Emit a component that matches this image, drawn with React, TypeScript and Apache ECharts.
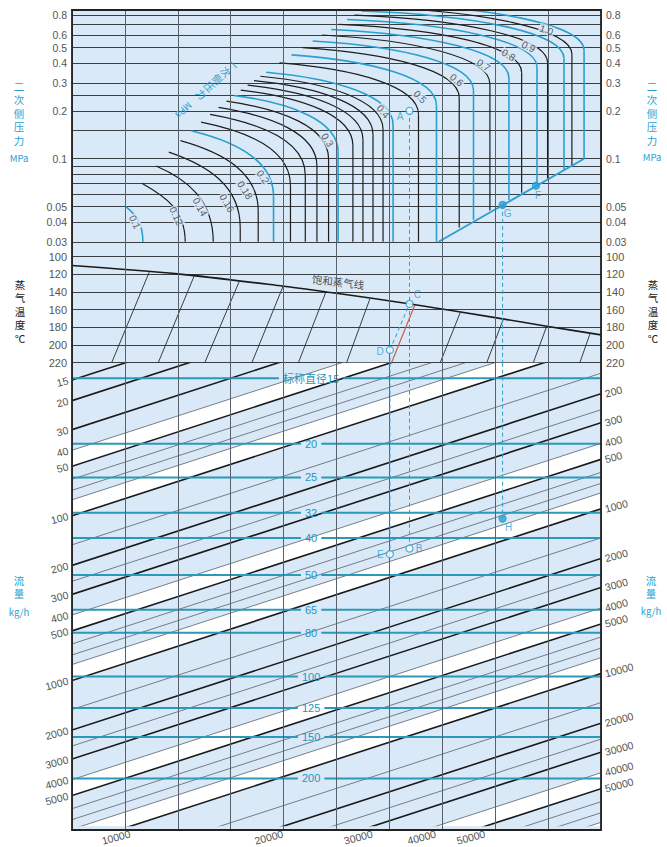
import React, { useEffect, useRef } from "react";
import * as echarts from "echarts";

// ================= Pressure section (二次侧压力 MPa) =================
const pressureRange = [0.02751, 0.8615];
const pressureGridLines = [0.03, 0.04, 0.05, 0.06, 0.07, 0.08, 0.09, 0.1, 0.15, 0.2, 0.25, 0.3, 0.4, 0.5, 0.6, 0.7, 0.8];
const pressureTickLabels = [0.03, 0.04, 0.05, 0.1, 0.2, 0.3, 0.4, 0.5, 0.6, 0.7, 0.8];

// primary pressure (一次侧压力) curves
const primaryPressures = [0.1, 0.12, 0.14, 0.16, 0.18, 0.2, 0.22, 0.24, 0.26, 0.28, 0.3, 0.32, 0.34, 0.36, 0.38, 0.4, 0.45, 0.5, 0.55, 0.6, 0.65, 0.7, 0.75, 0.8, 0.85, 0.9, 0.95, 1.0];
const curveStartX = [1.02, 1.32, 1.59, 1.83, 2.05, 2.25, 2.44, 2.61, 2.77, 2.92, 3.06, 3.19, 3.32, 3.44, 3.56, 3.67, 3.92, 4.15, 4.36, 4.55, 4.73, 4.9, 5.05, 5.2, 5.34, 5.47, 5.59, 5.71];
const curveStartP = [0.05, 0.07, 0.09, 0.11, 0.13, 0.15, 0.17, 0.19, 0.21, 0.23, 0.25, 0.27, 0.29, 0.31, 0.33, 0.35, 0.4, 0.45, 0.5, 0.55, 0.6, 0.65, 0.7, 0.75, 0.8, 0.85, 0.9, 0.95];
const curveStartSlope = [0.85, 0.57, 0.43, 0.34, 0.28, 0.24, 0.2, 0.18, 0.16, 0.145, 0.13, 0.12, 0.11, 0.1, 0.095, 0.09, 0.08, 0.07, 0.065, 0.06, 0.055, 0.05, 0.045, 0.04, 0.04, 0.035, 0.035, 0.03];
const curveKneeX = [1.34, 2.14, 2.67, 3.18, 3.52, 3.81, 4.13, 4.41, 4.63, 4.85, 5.03, 5.31, 5.5, 5.69, 5.88, 6.07, 6.55, 6.89, 7.32, 7.59, 7.9, 8.26, 8.5, 8.79, 8.99, 9.3, 9.45, 9.68];
const curveKneeP = [0.03, 0.03, 0.03, 0.037, 0.047, 0.058, 0.068, 0.079, 0.09, 0.1, 0.111, 0.121, 0.132, 0.142, 0.153, 0.163, 0.19, 0.216, 0.242, 0.269, 0.295, 0.322, 0.348, 0.375, 0.401, 0.427, 0.454, 0.48];
const curveEndP = [0.03, 0.03, 0.03, 0.03, 0.03, 0.03, 0.03, 0.03, 0.03, 0.03, 0.03, 0.03, 0.03, 0.03, 0.03, 0.03, 0.03, 0.03, 0.0369, 0.0413, 0.0472, 0.055, 0.061, 0.0687, 0.075, 0.0857, 0.0912, 0.1];
const blueCurvePressures = [0.1, 0.2, 0.3, 0.4, 0.5, 0.6, 0.7, 0.8, 0.9, 1.0];

const curveLabelText = ["0.1", "0.12", "0.14", "0.16", "0.18", "0.2", "0.3", "0.4", "0.5", "0.6", "0.7", "0.8", "0.9", "1.0"];
const curveLabelX = [1.19, 1.97, 2.42, 2.93, 3.27, 3.61, 4.83, 5.88, 6.58, 7.27, 7.78, 8.25, 8.63, 8.97];
const curveLabelP = [0.04, 0.0436, 0.0497, 0.0526, 0.0635, 0.0767, 0.131, 0.1975, 0.245, 0.3126, 0.388, 0.449, 0.506, 0.645];
const curveLabelAngle = [-65, -65, -62, -60, -58, -55, -58, -50, -45, -40, -35, -30, -25, -20];

const criticalLineX = [6.93, 9.68];
const criticalLineP = [0.03, 0.1];

// ================= Temperature section (蒸气温度 ℃) =================
const temperatureRange = [90, 220];
const temperatureTicks = [100, 120, 140, 160, 180, 200, 220];
const saturationX = [0, 2, 4, 5, 6.4, 8, 9, 10];
const saturationT = [110, 119.5, 133.5, 141.5, 153.5, 169, 179, 188.5];
const superheatTopX = [1.46, 2.31, 3.16, 3.99, 4.8, 5.63, 6.48, 7.34, 8.15, 8.97, 9.79];
const superheatTopT = [117.5, 121.8, 128.3, 133.6, 139.8, 148, 154.8, 163.2, 171.3, 179.3, 187.5];
const superheatBottomX = [0.75, 1.63, 2.51, 3.4, 4.28, 5.19, 6.04, 6.96, 7.84, 8.72, 9.6];
const saturationLabel = ["饱和蒸气线"];
const saturationLabelX = [5.03];
const saturationLabelT = [128.3];

// ================= Flow section (流量 kg/h) =================
const flowRange = [11.76, 7685];
const flowDecadesAcross = 1.042;
const flowLeftLabels = [15, 20, 30, 40, 50, 100, 200, 300, 400, 500, 1000, 2000, 3000, 4000, 5000];
const flowRightLabels = [200, 300, 400, 500, 1000, 2000, 3000, 4000, 5000, 10000, 20000, 30000, 40000, 50000];
const flowBottomLabels = [10000, 20000, 30000, 40000, 50000];
const flowThickLines = [15, 20, 30, 50, 100, 200, 300, 500, 1000, 2000, 3000, 5000, 10000, 20000, 30000, 50000];
const flowThinLines = [40, 60, 70, 80, 150, 250, 400, 600, 700, 800, 1500, 2500, 4000, 6000, 7000, 8000, 15000, 25000, 40000, 60000, 70000, 80000];
const flowWhiteBands = [[40, 50], [80, 100], [400, 500], [800, 1000], [4000, 5000], [8000, 10000], [40000, 50000], [80000, 100000]];

const dnLabels = ["标称直径15", "20", "25", "32", "40", "50", "65", "80", "100", "125", "150", "200"];
const dnFlowLevels = [14.6, 36.5, 58.5, 95.9, 136.2, 228.9, 372, 513.8, 946, 1469, 2205, 3931];

// ================= Worked example points =================
const pressurePointNames = ["A", "G", "F"];
const pressurePointX = [6.38, 8.14, 8.77];
const pressurePointP = [0.2, 0.0512, 0.0676];
const tempPointNames = ["C", "D"];
const tempPointX = [6.38, 6.01];
const tempPointT = [153.5, 205.6];
const flowPointNames = ["B", "E", "H"];
const flowPointX = [6.38, 6.01, 8.14];
const flowPointF = [158, 171, 104];
const filledPoints = ["G", "F", "H"];

// ================= styles =================
const BG = "#d9e9f7";
const BLUE = "#2b9fcf";
const TEAL = "#2b99b9";
const LABEL = "#555";
const NUM_FONT = "Liberation Sans";
const CJK_FONT = "Noto Sans CJK SC";

const L = Math.log10;

const labelPlacement: Record<string, any> = {
  A: { position: "left", distance: 2, offset: [0, 6] },
  G: { position: "bottom", distance: 1, offset: [5, -2] },
  F: { position: "bottom", distance: 1, offset: [2, 0] },
  C: { position: "right", distance: 2, offset: [-2, -9] },
  D: { position: "left", distance: 2, offset: [0, 2] },
  B: { position: "right", distance: 2, offset: [0, 0] },
  E: { position: "left", distance: 2, offset: [0, 0] },
  H: { position: "bottom", distance: 1, offset: [6, -1] },
};

function fmtP(v: number) {
  return String(Number(Math.pow(10, v).toFixed(2)));
}
function fmtF(v: number) {
  return String(Math.round(Math.pow(10, v)));
}

function pointSeries(names: string[], xs: number[], ys: number[], xi: number, yi: number) {
  return {
    type: "scatter",
    xAxisIndex: xi,
    yAxisIndex: yi,
    z: 6,
    symbol: "circle",
    symbolSize: 7,
    silent: true,
    data: names.map((n, i) => {
      const filled = filledPoints.includes(n);
      return {
        name: n,
        value: [xs[i], ys[i]],
        itemStyle: { color: filled ? BLUE : "#ffffff", borderColor: BLUE, borderWidth: 1.3 },
        label: { show: true, formatter: "{b}", color: BLUE, fontSize: 10, fontFamily: NUM_FONT, ...labelPlacement[n] },
      };
    }),
  };
}

function dashed(data: number[][], xi: number, yi: number) {
  return {
    type: "line",
    xAxisIndex: xi,
    yAxisIndex: yi,
    data,
    symbol: "none",
    silent: true,
    z: 5,
    lineStyle: { color: BLUE, width: 1, type: [4, 3] },
  };
}

function textHalf(s: string, size: number) {
  let w = 0;
  for (const ch of s) w += /[\u4e00-\u9fff]/.test(ch) ? size : size * 0.56;
  return w / 2;
}

function buildOption() {
  const pMin = L(pressureRange[0]);
  const pMax = L(pressureRange[1]);
  const fMin = L(flowRange[0]);
  const fMax = L(flowRange[1]);
  const shift = flowDecadesAcross;
  const tBottom = temperatureRange[1];
  const tTop = temperatureRange[0];

  const axisLabelBase = {
    color: LABEL, fontSize: 11, fontFamily: NUM_FONT, hideOverlap: false, showMinLabel: true, showMaxLabel: true,
  };
  const pLabel = { ...axisLabelBase, fontSize: 10.5, lineHeight: 9, customValues: pressureTickLabels.map(L), formatter: fmtP, margin: 5 };

  const grid = [
    { left: 72, top: 10, width: 529, height: 820, show: true, backgroundColor: BG, borderWidth: 0 },
    { left: 72, top: 10, width: 529, height: 237.8 },
    { left: 72, top: 247.8, width: 529, height: 114.9 },
    { left: 72, top: 362.7, width: 529, height: 467.3 },
  ];

  const hiddenX = (gi: number, pos = "bottom") => ({ gridIndex: gi, type: "value", min: 0, max: 10, show: false, position: pos });

  const xAxis = [
    {
      gridIndex: 0, type: "value", min: 0, max: 10, interval: 1, position: "bottom", z: 5,
      axisLine: { show: true, onZero: false, lineStyle: { color: "#222", width: 2 } },
      axisTick: { show: false }, axisLabel: { show: false },
      splitLine: { show: true, lineStyle: { color: "#56616c", width: 1 } },
    },
    {
      gridIndex: 0, type: "value", min: 0, max: 10, position: "top", z: 5,
      axisLine: { show: true, onZero: false, lineStyle: { color: "#222", width: 2 } },
      axisTick: { show: false }, axisLabel: { show: false }, splitLine: { show: false },
    },
    hiddenX(1),
    hiddenX(2),
    hiddenX(3, "top"),
    {
      gridIndex: 3, type: "value", min: fMax, max: fMax + shift, position: "bottom",
      axisLine: { show: false }, axisTick: { show: false }, splitLine: { show: false },
      axisLabel: { ...axisLabelBase, fontSize: 10.5, customValues: flowBottomLabels.map(L), formatter: fmtF, rotate: 15, margin: 7 },
    },
  ];

  const yAxis = [
    {
      gridIndex: 0, type: "value", min: 0, max: 1, position: "left", z: 5,
      axisLine: { show: true, onZero: false, lineStyle: { color: "#222", width: 1.8 } },
      axisTick: { show: false }, axisLabel: { show: false }, splitLine: { show: false },
    },
    {
      gridIndex: 0, type: "value", min: 0, max: 1, position: "right", z: 5,
      axisLine: { show: true, onZero: false, lineStyle: { color: "#222", width: 1.8 } },
      axisTick: { show: false }, axisLabel: { show: false }, splitLine: { show: false },
    },
    {
      gridIndex: 1, type: "value", min: pMin, max: pMax, position: "left",
      axisLine: { show: false }, axisTick: { show: false, customValues: pressureGridLines.map(L) },
      axisLabel: pLabel,
      splitLine: { show: true, lineStyle: { color: "#3a3f44", width: 1 } },
    },
    {
      gridIndex: 1, type: "value", min: pMin, max: pMax, position: "right",
      axisLine: { show: false }, axisTick: { show: false, customValues: pressureGridLines.map(L) },
      axisLabel: pLabel,
      splitLine: { show: false },
    },
    {
      gridIndex: 2, type: "value", min: tTop, max: tBottom, inverse: true, position: "left",
      axisLine: { show: false }, axisTick: { show: false, customValues: temperatureTicks },
      axisLabel: { ...axisLabelBase, customValues: temperatureTicks, margin: 5 },
      splitLine: { show: true, lineStyle: { color: "#3a3f44", width: 1 } },
    },
    {
      gridIndex: 2, type: "value", min: tTop, max: tBottom, inverse: true, position: "right",
      axisLine: { show: false }, axisTick: { show: false, customValues: temperatureTicks },
      axisLabel: { ...axisLabelBase, customValues: temperatureTicks, margin: 5 },
      splitLine: { show: false },
    },
    {
      gridIndex: 3, type: "value", min: fMin, max: fMax, inverse: true, position: "left",
      axisLine: { show: false }, axisTick: { show: false }, splitLine: { show: false },
      axisLabel: { ...axisLabelBase, fontSize: 10.5, customValues: flowLeftLabels.map(L), formatter: fmtF, rotate: 15, margin: 4 },
    },
    {
      gridIndex: 3, type: "value", min: fMin + shift, max: fMax + shift, inverse: true, position: "right",
      axisLine: { show: false }, axisTick: { show: false }, splitLine: { show: false },
      axisLabel: { ...axisLabelBase, fontSize: 10.5, customValues: flowRightLabels.map(L), formatter: fmtF, rotate: 15, margin: 4 },
    },
  ];

  // ---- pressure curves ----
  const curveData = primaryPressures.map((p1, i) => [
    curveStartX[i], L(curveStartP[i]), curveKneeX[i], L(curveKneeP[i]), L(curveEndP[i]),
    curveStartSlope[i], blueCurvePressures.includes(p1) ? 1 : 0,
  ]);

  const curveSeries = {
    type: "custom", xAxisIndex: 2, yAxisIndex: 2, clip: true, silent: true, z: 3,
    data: curveData,
    renderItem: (_p: any, api: any) => {
      const S = api.coord([api.value(0), api.value(1)]);
      const K = api.coord([api.value(2), api.value(3)]);
      const B = api.coord([api.value(2), api.value(4)]);
      const slope = api.value(5);
      const stroke = api.value(6) === 1 ? BLUE : "#1e1e1e";
      const lw = api.value(6) === 1 ? 1.6 : 1.2;
      const dx = K[0] - S[0];
      const dy = K[1] - S[1];
      const c = 0.55;
      let cpy1 = S[1] + slope * c * dx;
      if (cpy1 > S[1] + 0.8 * dy) cpy1 = S[1] + 0.8 * dy;
      const children: any[] = [
        {
          type: "bezierCurve",
          shape: { x1: S[0], y1: S[1], x2: K[0], y2: K[1], cpx1: S[0] + c * dx, cpy1, cpx2: K[0], cpy2: K[1] - c * dy },
          style: { stroke, lineWidth: lw, fill: "none" },
        },
      ];
      if (B[1] - K[1] > 0.5) {
        children.push({ type: "line", shape: { x1: K[0], y1: K[1], x2: B[0], y2: B[1] }, style: { stroke, lineWidth: lw } });
      }
      return { type: "group", children };
    },
  };

  const criticalSeries = {
    type: "line", xAxisIndex: 2, yAxisIndex: 2, symbol: "none", silent: true, z: 3,
    data: criticalLineX.map((x, i) => [x, L(criticalLineP[i])]),
    lineStyle: { color: BLUE, width: 1.8 },
  };

  const curveLabelSeries = {
    type: "scatter", xAxisIndex: 2, yAxisIndex: 2, symbolSize: 0, silent: true, z: 4,
    data: curveLabelText.map((t, i) => ({
      name: t, value: [curveLabelX[i], L(curveLabelP[i])],
      label: { rotate: curveLabelAngle[i] },
    })),
    label: {
      show: true, position: "inside", formatter: "{b}", color: "#333", fontSize: 10, fontFamily: NUM_FONT,
      backgroundColor: BG, padding: [0, 1],
    },
  };

  // ---- temperature ----
  const saturationSeries = {
    type: "line", xAxisIndex: 3, yAxisIndex: 4, symbol: "none", silent: true, smooth: 0.3, z: 3,
    data: saturationX.map((x, i) => [x, saturationT[i]]),
    lineStyle: { color: "#1a1a1a", width: 1.6 },
  };
  const superheatSeries = {
    type: "custom", xAxisIndex: 3, yAxisIndex: 4, clip: true, silent: true, z: 3,
    data: superheatTopX.map((x, i) => [x, superheatTopT[i], superheatBottomX[i], tBottom, i]),
    renderItem: (_p: any, api: any) => {
      const a = api.coord([api.value(0), api.value(1)]);
      const b = api.coord([api.value(2), api.value(3)]);
      const red = api.value(4) === 6;
      return {
        type: "line", shape: { x1: a[0], y1: a[1], x2: b[0], y2: b[1] },
        style: { stroke: red ? "#c8604f" : "#2a2a2a", lineWidth: red ? 1.2 : 0.9 },
      };
    },
  };
  const saturationLabelSeries = {
    type: "scatter", xAxisIndex: 3, yAxisIndex: 4, symbolSize: 0, silent: true, z: 4,
    data: saturationLabel.map((t, i) => ({ name: t, value: [saturationLabelX[i], saturationLabelT[i]] })),
    label: { show: true, position: "inside", formatter: "{b}", rotate: -7, color: "#222", fontSize: 10.5, fontFamily: CJK_FONT },
  };

  // ---- flow ----
  const bandSeries = {
    type: "custom", xAxisIndex: 4, yAxisIndex: 6, clip: true, silent: true, z: 1,
    data: flowWhiteBands.map(([a, b]) => [0, L(a), L(b)]),
    renderItem: (_p: any, api: any) => {
      const a = api.value(1);
      const b = api.value(2);
      const pts = [
        api.coord([0, a]), api.coord([10, a - shift]), api.coord([10, b - shift]), api.coord([0, b]),
      ];
      return { type: "polygon", shape: { points: pts }, style: { fill: "#ffffff", stroke: "none" } };
    },
  };
  const flowLineData = [
    ...flowThickLines.map((f) => [0, L(f), 1]),
    ...flowThinLines.map((f) => [0, L(f), 0]),
  ];
  const flowLineSeries = {
    type: "custom", xAxisIndex: 4, yAxisIndex: 6, clip: true, silent: true, z: 2,
    data: flowLineData,
    renderItem: (_p: any, api: any) => {
      const v = api.value(1);
      const thick = api.value(2) === 1;
      const a = api.coord([0, v]);
      const b = api.coord([10, v - shift]);
      return {
        type: "line", shape: { x1: a[0], y1: a[1], x2: b[0], y2: b[1] },
        style: { stroke: thick ? "#1a1a1a" : "#5b6168", lineWidth: thick ? 1.6 : 0.8 },
      };
    },
  };
  const dnLabelX = 4.52;
  const dnSeries = {
    type: "custom", xAxisIndex: 4, yAxisIndex: 6, clip: false, silent: true, z: 3,
    data: dnFlowLevels.map((lv, i) => [dnLabelX, L(lv), i]),
    renderItem: (_p: any, api: any) => {
      const v = api.value(1);
      const idx = api.value(2);
      const left = api.coord([0, v]);
      const right = api.coord([10, v]);
      const mid = api.coord([api.value(0), v]);
      const text = dnLabels[idx];
      const half = textHalf(text, 11) + 4;
      const st = { stroke: TEAL, lineWidth: 2 };
      return {
        type: "group",
        children: [
          { type: "line", shape: { x1: left[0], y1: left[1], x2: mid[0] - half, y2: left[1] }, style: st },
          { type: "line", shape: { x1: mid[0] + half, y1: left[1], x2: right[0], y2: left[1] }, style: st },
          {
            type: "text", x: mid[0], y: left[1],
            style: {
              text, fill: "#2496c0", fontSize: 11, fontFamily: idx === 0 ? CJK_FONT : NUM_FONT,
              align: "center", verticalAlign: "middle",
            },
          },
        ],
      };
    },
  };

  const A = 0, G = 1;
  const C = 0, D = 1;
  const B = 0, E = 1, Hh = 2;

  const series: any[] = [
    curveSeries,
    criticalSeries,
    curveLabelSeries,
    saturationSeries,
    superheatSeries,
    saturationLabelSeries,
    bandSeries,
    flowLineSeries,
    dnSeries,
    // dashed guides
    dashed([[pressurePointX[A], L(pressurePointP[A])], [pressurePointX[A], pMin]], 2, 2),
    dashed([[pressurePointX[G], L(pressurePointP[G])], [pressurePointX[G], pMin]], 2, 2),
    dashed([[pressurePointX[A], tTop], [pressurePointX[A], tBottom]], 3, 4),
    dashed([[pressurePointX[G], tTop], [pressurePointX[G], tBottom]], 3, 4),
    dashed([[tempPointX[D], tempPointT[D]], [tempPointX[D], tBottom]], 3, 4),
    dashed([[tempPointX[D], tempPointT[D]], [tempPointX[C], tempPointT[C]]], 3, 4),
    dashed([[flowPointX[B], fMin], [flowPointX[B], L(flowPointF[B])]], 4, 6),
    dashed([[flowPointX[E], fMin], [flowPointX[E], L(flowPointF[E])]], 4, 6),
    dashed([[flowPointX[Hh], fMin], [flowPointX[Hh], L(flowPointF[Hh])]], 4, 6),
    pointSeries(pressurePointNames, pressurePointX, pressurePointP.map(L), 2, 2),
    pointSeries(tempPointNames, tempPointX, tempPointT, 3, 4),
    pointSeries(flowPointNames, flowPointX, flowPointF.map(L), 4, 6),
  ];

  const txt = (text: string, x: number, y: number, color: string, size: number, rotation = 0) => ({
    type: "text", x, y, rotation, silent: true, z: 10,
    style: {
      text, fill: color, font: `${size}px "${CJK_FONT}"`, fontSize: size, fontFamily: CJK_FONT,
      align: "center", verticalAlign: "middle", textAlign: "center", textVerticalAlign: "middle",
    },
  });
  // stacked single characters for the side titles
  const sideColumn = (chars: string[], x: number, y0: number, step: number, color: string, size = 10.5) =>
    chars.map((ch, i) => txt(ch, x, y0 + i * step, color, size));

  // diagonal (vertical-writing, tilted) label along the curve starts
  const diagChars = ["一", "次", "侧", "压", "力"];
  const diagStart = [234, 64];
  const diagDir = [-0.736, 0.68];
  const diagStep = 11;
  const diagRot = -0.82;

  const graphic = [
    ...sideColumn(["二", "次", "侧", "压", "力"], 19, 86, 13.5, BLUE),
    ...sideColumn(["MPa"], 19, 158, 12, BLUE, 9.5),
    ...sideColumn(["二", "次", "侧", "压", "力"], 652, 86, 13.5, BLUE),
    ...sideColumn(["MPa"], 652, 157, 12, BLUE, 9.5),
    ...sideColumn(["蒸", "气", "温", "度", "℃"], 20, 284, 13.5, "#222"),
    ...sideColumn(["蒸", "气", "温", "度", "℃"], 653, 284, 13.5, "#222"),
    ...sideColumn(["流", "量"], 19, 580, 13.5, BLUE),
    ...sideColumn(["kg/h"], 19, 612, 12, BLUE, 9.5),
    ...sideColumn(["流", "量"], 651, 580, 13.5, BLUE),
    ...sideColumn(["kg/h"], 651, 611, 12, BLUE, 9.5),
    ...diagChars.map((ch, i) =>
      txt(ch, diagStart[0] + diagDir[0] * diagStep * i, diagStart[1] + diagDir[1] * diagStep * i, BLUE, 10, diagRot)
    ),
    txt("MPa", diagStart[0] + diagDir[0] * diagStep * 6.2, diagStart[1] + diagDir[1] * diagStep * 6.2, BLUE, 9.5, diagRot - Math.PI / 2),
  ];

  return {
    animation: false,
    backgroundColor: "#ffffff",
    textStyle: { fontFamily: NUM_FONT },
    grid,
    xAxis,
    yAxis,
    series,
    graphic,
  };
}

export default function App() {
  const ref = useRef<HTMLDivElement>(null);
  useEffect(() => {
    if (!ref.current) return;
    const chart = echarts.init(ref.current, null, { renderer: "svg" });
    chart.setOption(buildOption() as any);
    return () => chart.dispose();
  }, []);
  return (
    <div
      ref={ref}
      style={{ position: "fixed", left: 0, top: 0, width: 667, height: 847, background: "#fff" }}
    />
  );
}
